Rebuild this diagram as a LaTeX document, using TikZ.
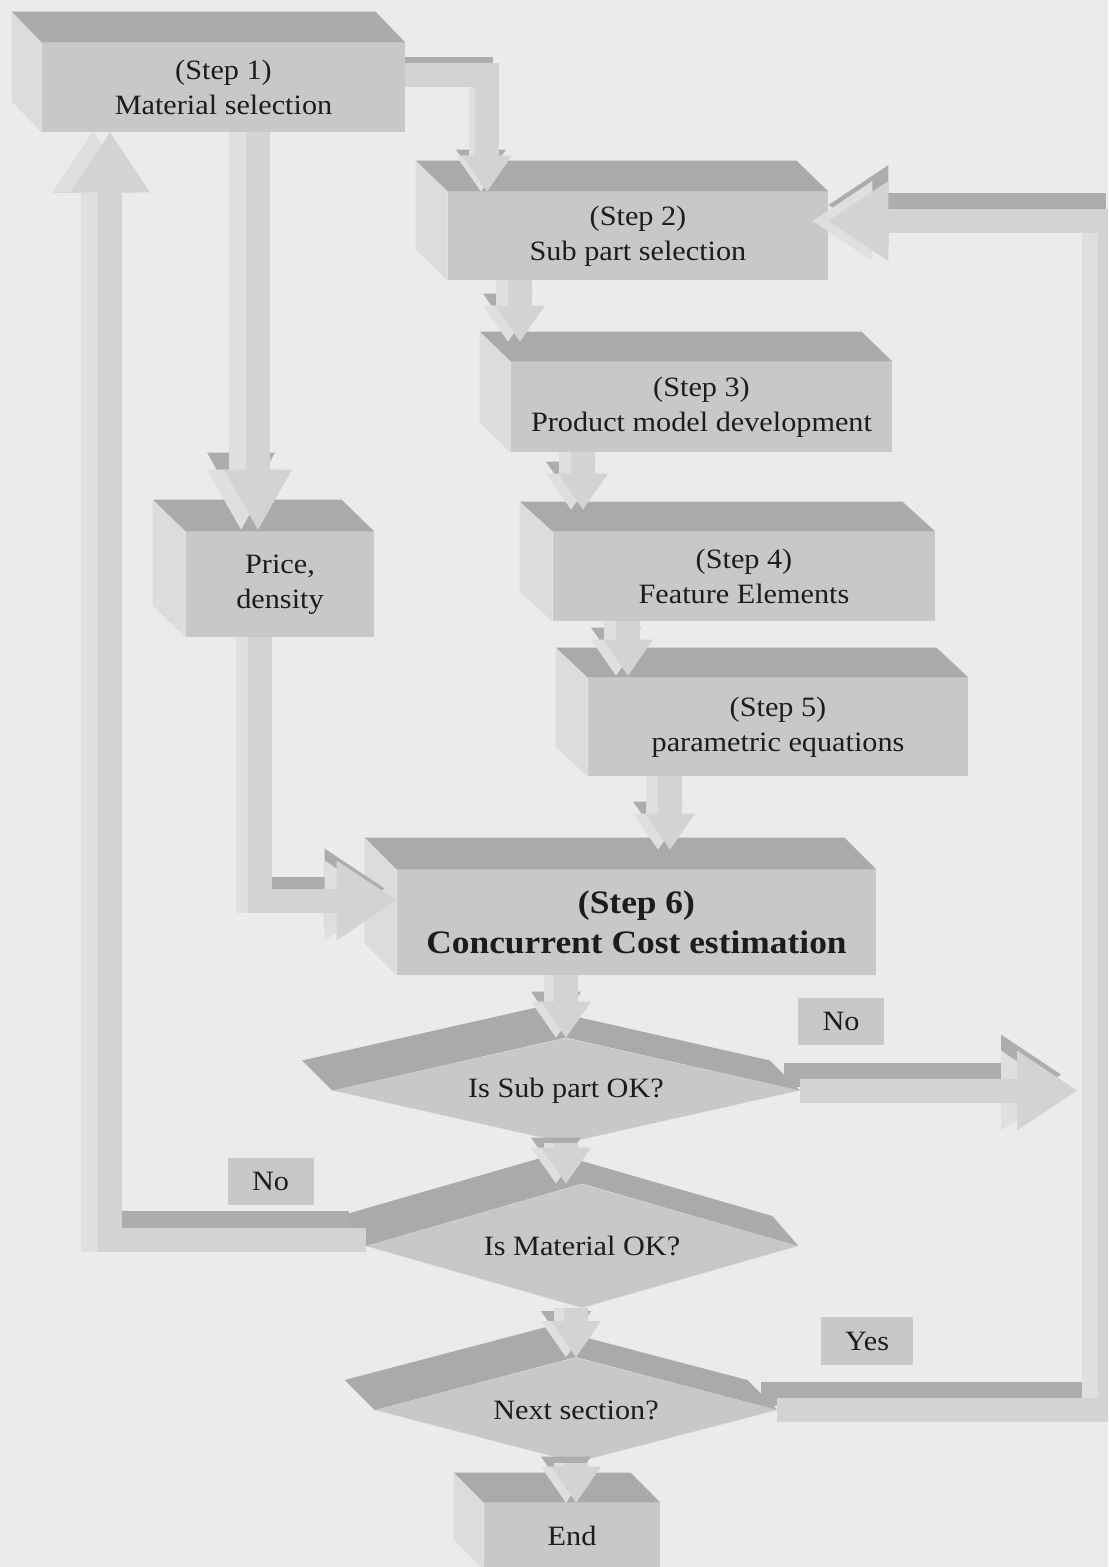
\documentclass[tikz,border=0pt]{standalone}
\usepackage{fontspec}
\setmainfont{Liberation Serif}[FakeStretch=1.08]
\usepackage{tikz}
\usetikzlibrary{arrows.meta,calc,shapes.geometric}
\definecolor{bggray}{HTML}{EBEBEB}
\definecolor{facefront}{HTML}{C8C8C8}
\definecolor{facetop}{HTML}{AAAAAA}
\definecolor{faceleft}{HTML}{DCDCDC}
\definecolor{pipelight}{HTML}{D3D3D3}
\definecolor{pipedark}{HTML}{ADADAD}
\definecolor{pipepale}{HTML}{DFDFDF}
\definecolor{inkgray}{HTML}{1C1C1C}
\tikzset{
  smallhead/.tip={Triangle[width=25pt,length=18pt,line width=0pt]},
  midhead/.tip={Triangle[width=34pt,length=30pt,line width=0pt]},
  bighead/.tip={Triangle[width=40pt,length=30pt,line width=0pt]},
  txt/.style={text=inkgray, font=\fontsize{14}{17.5}\selectfont},
  block/.style={txt, fill=facefront, inner sep=0pt, align=center},
  decision/.style={txt, diamond, aspect=4, fill=facefront, inner sep=0pt},
  answer/.style={txt, fill=facefront, inner sep=0pt, minimum width=43pt, minimum height=23.5pt},
  pipefront/.style={draw=pipelight, line width=12pt},
  pipetop/.style={draw=pipedark, line width=12pt},
  pipeside/.style={draw=pipepale, line width=12pt},
  backcut/.style={shorten >={0.5pt*#1}},
  backcut/.default=0,
}
% top and left faces of a block, #2/#3 = depth in px
\newcommand{\blockfaces}[3]{%
  \fill[facetop] (#1.north west) -- ++(#2,#3) -- ($(#1.north east)+(#2,#3)$) -- (#1.north east) -- cycle;
  \fill[faceleft] (#1.north west) -- ++(#2,#3) -- ($(#1.south west)+(#2,#3)$) -- (#1.south west) -- cycle;}
\newcommand{\decisionfaces}[3]{%
  \fill[facetop] ($(#1.west)+(#2,#3)$) -- ($(#1.north)+(#2,#3)$) -- ($(#1.east)+(#2,#3)$)
    -- (#1.east) -- (#1.north) -- (#1.west) -- cycle;}
% 3d pipe: #1 tip, #2 depth in px, #3/#4 start cut of top/side copy in px, #5 path
\newcommand{\drawpipe}[6][backcut]{%
  \draw[pipetop, -{#2}, shorten <={0.5pt*#4}, #1, transform canvas={shift={(-#3,-#3)}}] #6;
  \draw[pipeside, -{#2}, shorten <={0.5pt*#5}, transform canvas={shift={(-#3,0)}}] #6;
  \draw[pipefront, -{#2}] #6;}

\begin{document}
\begin{tikzpicture}[x=0.5pt, y=-0.5pt]
\useasboundingbox (0,0) rectangle (1108,1567);
\clip (0,0) rectangle (1108,1567);
\fill[bggray] (0,0) rectangle (1108,1567);
% blocks
\node[block, minimum width=181.5pt, minimum height=44.5pt] (step1) at (223.5,87.5) {(Step 1)\\Material selection};
\node[block, minimum width=190pt, minimum height=44pt] (step2) at (638,236) {(Step 2)\\Sub part selection};
\node[block, minimum width=190.5pt, minimum height=45pt] (step3) at (701.5,407) {(Step 3)\\Product model development};
\node[block, minimum width=191pt, minimum height=44.5pt] (step4) at (744,576.5) {(Step 4)\\Feature Elements};
\node[block, minimum width=190pt, minimum height=49pt] (step5) at (778,727) {(Step 5)\\parametric equations};
\node[block, minimum width=94pt, minimum height=52.5pt] (price) at (280,584.5) {Price,\\density};
\node[block, font=\bfseries\fontsize{16.4}{20}\selectfont, minimum width=239.5pt, minimum height=52.5pt] (step6) at (636.5,922.5) {(Step 6)\\Concurrent Cost estimation};
\node[block, minimum width=88pt, minimum height=33pt] (endbox) at (572,1536) {End};
\blockfaces{step1}{-30}{-31}
\blockfaces{step2}{-32}{-31}
\blockfaces{step3}{-31}{-30}
\blockfaces{step4}{-33}{-30}
\blockfaces{step5}{-32}{-30}
\blockfaces{price}{-33}{-32}
\blockfaces{step6}{-32}{-32}
\blockfaces{endbox}{-30}{-30}
% decisions
\node[decision, minimum width=233.5pt, minimum height=52.5pt] (subok) at (566,1090.5) {Is Sub part OK?};
\node[decision, minimum width=216pt, minimum height=62pt] (matok) at (582,1246) {Is Material OK?};
\node[decision, minimum width=201pt, minimum height=52.5pt] (nextsec) at (576,1410) {Next section?};
\decisionfaces{subok}{-30}{-30}
\decisionfaces{matok}{-26}{-30}
\decisionfaces{nextsec}{-30}{-30}
\coordinate (nosubend) at (1077,1090.5);
% pipes
\drawpipe{smallhead}{6}{6}{6}{($(step1.east)+(0,-12)$) -| ($(step2.north)+(-151,0)$)}
\drawpipe{smallhead}{12}{12}{0}{($(step2.south)+(-118,0)$) -- ($(step3.north)+(-181.5,-20)$)}
\drawpipe{smallhead}{12}{12}{0}{($(step3.south)+(-118.5,0)$) -- ($(step4.north)+(-161,-22)$)}
\drawpipe{smallhead}{12}{12}{0}{($(step4.south)+(-116,0)$) -- ($(step5.north)+(-150,-2)$)}
\drawpipe{smallhead}{12}{12}{0}{($(step5.south)+(-108,0)$) -- ($(step6.north)+(33.5,-20)$)}
\drawpipe{midhead}{17}{17}{0}{($(step1.south)+(34.5,0)$) -- ($(price.north)+(-22,-2)$)}
\drawpipe{bighead}{12}{12}{0}{($(price.south)+(-20,0)$) |- ($(step6.west)+(0,-22)$)}
\drawpipe{smallhead}{10}{10}{0}{(subok.north |- step6.south) -- (subok.north)}
\drawpipe{bighead}{16}{0}{16}{(subok.east) -- (nosubend)}
\drawpipe{smallhead}{10}{10}{0}{(subok.south) -- (subok.south |- matok.north)}
\drawpipe[backcut=17]{bighead}{17}{0}{0}{($(matok.west)+(0,-6)$) -| ($(step1.south)+(-113.5,0)$)}
\drawpipe{smallhead}{10}{10}{0}{(nextsec.north |- matok.south) -- (nextsec.north)}
\drawpipe[backcut=16]{bighead}{16}{0}{16}{(nextsec.east) -- ++(333,0) |- ($(step2.east)+(0,-15)$)}
\drawpipe{smallhead}{10}{10}{0}{(nextsec.south) -- (nextsec.south |- endbox.north)}
% answers
\node[answer] (nosub) at (841,1021.5) {No};
\node[answer] (nomat) at (270.5,1181.5) {No};
\node[answer, minimum width=46pt, minimum height=24pt] (yesnext) at (867,1341) {Yes};
\end{tikzpicture}
\end{document}
